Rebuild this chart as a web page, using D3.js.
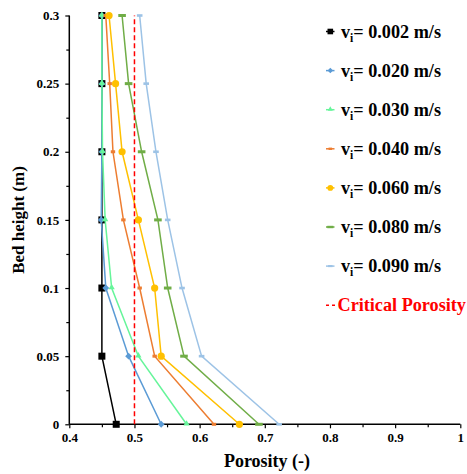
<!DOCTYPE html>
<html><head><meta charset="utf-8">
<script src="https://cdn.jsdelivr.net/npm/d3@7"></script>
<style>body{margin:0;background:#fff}svg{display:block}</style>
</head><body><svg id="c" width="467" height="474"></svg>
<script>
const heights = [0, 0.05, 0.1, 0.15, 0.2, 0.25, 0.3];
const seriesNames = ["0.002", "0.020", "0.030", "0.040", "0.060", "0.080", "0.090"];
const v002 = [0.472, 0.450, 0.450, 0.450, 0.450, 0.450, 0.450];
const v020 = [0.541, 0.491, 0.456, 0.449, 0.450, 0.450, 0.450];
const v030 = [0.580, 0.506, 0.465, 0.455, 0.451, 0.450, 0.450];
const v040 = [0.622, 0.531, 0.508, 0.483, 0.467, 0.462, 0.456];
const v060 = [0.661, 0.541, 0.531, 0.506, 0.481, 0.471, 0.461];
const v080 = [0.691, 0.576, 0.551, 0.536, 0.511, 0.491, 0.481];
const v090 = [0.722, 0.603, 0.573, 0.551, 0.533, 0.518, 0.508];
const criticalPorosity = 0.5;
const xTicks = [0.4, 0.5, 0.6, 0.7, 0.8, 0.9, 1];
const yTicks = [0, 0.05, 0.1, 0.15, 0.2, 0.25, 0.3];
const colors = ["#000000", "#5B9BD5", "#66F59A", "#ED7D31", "#FFC000", "#70AD47", "#9DC3E6"];
const shapes = ["square", "diamond", "triangle", "dash", "circle", "bar", "smallbar"];
const allValues = [v002, v020, v030, v040, v060, v080, v090];

const svg = d3.select("#c");
const font = "'Liberation Serif','Times New Roman',serif";
const x = d3.scaleLinear().domain([0.4, 1]).range([69.3, 460.3]);
const y = d3.scaleLinear().domain([0, 0.3]).range([424.3, 15.5]);

// axes
const xAxis = d3.axisBottom(x).tickValues(xTicks).tickFormat(d3.format("")).tickSize(4).tickPadding(4);
const xMinor = d3.axisBottom(x).tickValues(d3.range(0.45, 1, 0.1)).tickFormat("").tickSize(3);
const yAxis = d3.axisLeft(y).tickValues(yTicks).tickFormat(d3.format("")).tickSize(4).tickPadding(6);
const yMinor = d3.axisLeft(y).tickValues(d3.range(0.025, 0.3, 0.05)).tickFormat("").tickSize(3);

function styleAxis(g){
  g.selectAll("path").attr("stroke","#000").attr("stroke-width",1.5);
  g.selectAll("line").attr("stroke","#000").attr("stroke-width",1.2);
  g.selectAll("text").attr("font-family",font).attr("font-weight","bold").attr("font-size",13).attr("fill","#000");
}
svg.append("g").attr("transform","translate(0,"+y(0)+")").call(xMinor).call(styleAxis).select(".domain").remove();
svg.append("g").attr("transform","translate("+x(0.4)+",0)").call(yMinor).call(styleAxis).select(".domain").remove();
svg.append("g").attr("transform","translate(0,"+y(0)+")").call(xAxis).call(styleAxis).call(g=>g.selectAll("path").attr("d","M"+x(0.4)+",0H"+x(1)));
svg.append("g").attr("transform","translate("+x(0.4)+",0)").call(yAxis).call(styleAxis).call(g=>g.selectAll("path").attr("d","M0,"+y(0)+"V"+y(0.3)));

// titles
svg.append("text").attr("x",267).attr("y",467).attr("text-anchor","middle")
  .attr("font-family",font).attr("font-weight","bold").attr("font-size",18).text("Porosity (-)");
svg.append("text").attr("transform","translate(24,220) rotate(-90)").attr("text-anchor","middle")
  .attr("font-family",font).attr("font-weight","bold").attr("font-size",17).text("Bed height (m)");

// marker drawing
function marker(g, shape, color, cx, cy, s){
  s = s || 1;
  if(shape==="square") g.append("rect").attr("x",cx-3.5*s).attr("y",cy-3.5*s).attr("width",7*s).attr("height",7*s).attr("fill",color);
  else if(shape==="circle") g.append("circle").attr("cx",cx).attr("cy",cy).attr("r",3.6*s).attr("fill",color);
  else if(shape==="diamond") g.append("path").attr("d",d3.symbol(d3.symbolDiamond2, 30*s*s)()).attr("transform","translate("+cx+","+cy+")").attr("fill",color);
  else if(shape==="triangle") g.append("path").attr("d",d3.symbol(d3.symbolTriangle2, 28*s*s)()).attr("transform","translate("+cx+","+(cy-0.5)+")").attr("fill",color);
  else if(shape==="dash") g.append("rect").attr("x",cx-2.2*s).attr("y",cy-1.5*s).attr("width",4.4*s).attr("height",3*s).attr("fill",color);
  else if(shape==="bar") g.append("rect").attr("x",cx-3.8*s).attr("y",cy-1.5*s).attr("width",7.6*s).attr("height",3*s).attr("fill",color);
  else if(shape==="smallbar") g.append("rect").attr("x",cx-2.8*s).attr("y",cy-1.3*s).attr("width",5.6*s).attr("height",2.6*s).attr("fill",color);
}

const line = d3.line().x(d=>x(d[0])).y(d=>y(d[1]));
allValues.forEach((vals,i)=>{
  const pts = vals.map((v,j)=>[v, heights[j]]);
  const g = svg.append("g");
  g.append("path").attr("d",line(pts)).attr("fill","none").attr("stroke",colors[i]).attr("stroke-width",1.5);
  pts.forEach(p=>marker(g, shapes[i], colors[i], x(p[0]), y(p[1])));
});

// critical porosity
svg.append("path").attr("d",line([[criticalPorosity,0],[criticalPorosity,0.3]]))
  .attr("stroke","#FF0000").attr("stroke-width",1.5).attr("stroke-dasharray","5,3").attr("fill","none");

// legend
const legY0 = 31.5, legDy = 39.1;
seriesNames.forEach((n,i)=>{
  const cy = legY0 + i*legDy;
  const g = svg.append("g");
  g.append("line").attr("x1",326).attr("x2",334.5).attr("y1",cy).attr("y2",cy).attr("stroke",colors[i]).attr("stroke-width",1.5);
  marker(g, shapes[i], colors[i], 330.3, cy, 0.8);
  const t = g.append("text").attr("x",341).attr("y",cy+6).attr("font-family",font).attr("font-weight","bold").attr("font-size",18.2).attr("fill","#000");
  t.append("tspan").text("v");
  t.append("tspan").attr("font-size",11.5).attr("dy",4).text("i");
  t.append("tspan").attr("dy",-4).text("= " + n + " m/s");
});
{
  const cy = legY0 + 7*legDy;
  svg.append("line").attr("x1",326).attr("x2",335).attr("y1",cy).attr("y2",cy).attr("stroke","#FF0000").attr("stroke-width",1.5).attr("stroke-dasharray","3,3");
  svg.append("text").attr("x",337.5).attr("y",cy+6).attr("font-family",font).attr("font-weight","bold").attr("font-size",18.2).attr("fill","#FF0000").text("Critical Porosity");
}
</script></body></html>
